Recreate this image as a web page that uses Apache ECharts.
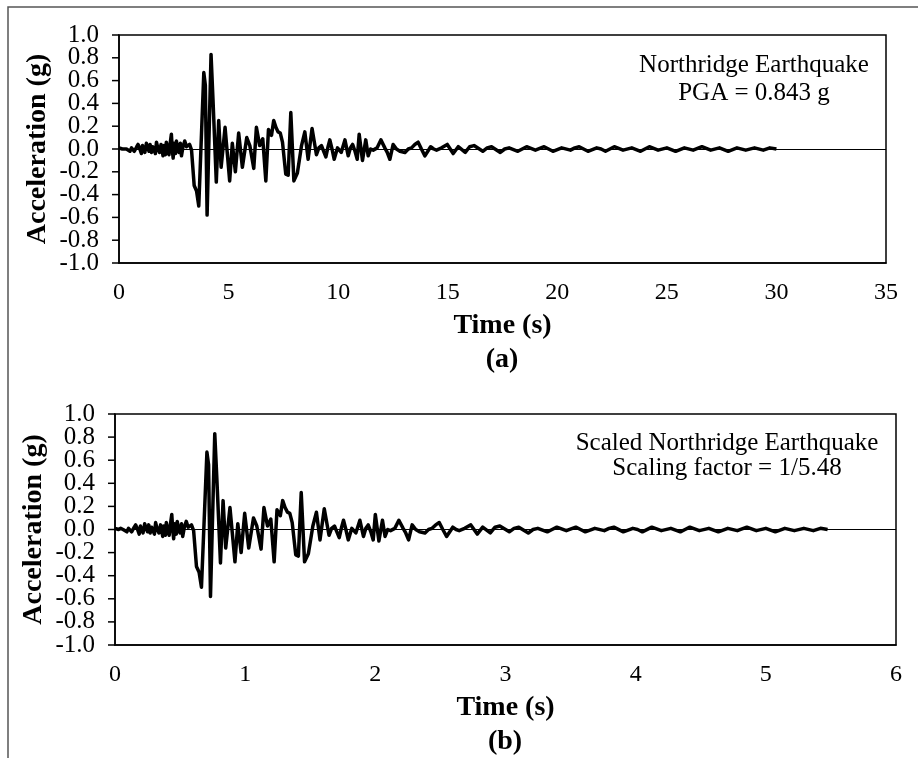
<!DOCTYPE html>
<html>
<head>
<meta charset="utf-8">
<script src="https://cdn.jsdelivr.net/npm/echarts@6/dist/echarts.min.js"></script>
<style>
  html, body { margin: 0; padding: 0; background: #fff; }
  #charts { width: 918px; height: 758px; }
</style>
</head>
<body>
<div id="charts"></div>
<script>
// time (s) and acceleration (g)
const time = [0, 0.08, 0.15, 0.24, 0.34, 0.42, 0.5, 0.57, 0.64, 0.7, 0.75, 0.81, 0.87, 0.95, 1.02, 1.07,
  1.12, 1.18, 1.25, 1.31, 1.37, 1.42, 1.48, 1.54, 1.6, 1.66, 1.71, 1.78, 1.85, 1.92, 2.01, 2.05, 2.08,
  2.12, 2.16, 2.22, 2.28, 2.33, 2.39, 2.43, 2.47, 2.51, 2.55, 2.58, 2.62, 2.68, 2.74, 2.8, 2.85, 2.92,
  3.0, 3.08, 3.15, 3.22, 3.31, 3.43, 3.54, 3.64,
  3.87, 3.94, 4.02, 4.2, 4.29, 4.44, 4.55, 4.66, 4.84, 5.05, 5.17, 5.31, 5.46, 5.63, 5.83, 5.97,
  6.15, 6.27, 6.42, 6.56, 6.7, 6.82, 6.96, 7.06, 7.16, 7.26, 7.36, 7.46, 7.61, 7.72, 7.84, 7.98, 8.14, 8.33,
  8.48, 8.63, 8.81, 9.01, 9.12, 9.24, 9.34, 9.44, 9.54, 9.62, 9.72, 9.82, 9.97, 10.14, 10.31, 10.46, 10.56,
  10.66, 10.77, 10.87, 10.96, 11.11, 11.26, 11.37, 11.48, 11.6, 11.78, 11.95, 12.13, 12.24, 12.36, 12.51,
  12.66, 12.82, 13.05, 13.2, 13.35, 13.5, 13.65, 13.8, 13.96, 14.22, 14.36, 14.49, 14.72,
  14.98, 15.25, 15.48, 15.8, 16.0, 16.2, 16.6, 16.8, 17.0, 17.4, 17.6, 17.8, 18.2, 18.4, 18.6, 19.0,
  19.4, 19.6, 19.8, 20.2, 20.6, 20.8, 21.0, 21.4, 21.8, 22.0, 22.2, 22.6, 23.0, 23.4, 23.8, 24.0, 24.2,
  24.6, 25.0, 25.4, 25.8, 26.2, 26.6, 27.0, 27.4, 27.8, 28.2, 28.6, 29.0, 29.4, 29.7, 30.0];
const accel = [0.01, 0.02, 0.0, 0.01, 0.0, -0.01, -0.02, 0.01, 0.02, -0.02, -0.03, 0.02, 0.04, 0.0, -0.04, 0.03,
  0.02, -0.03, 0.05, 0.01, -0.02, 0.04, -0.03, 0.02, 0.03, -0.04, 0.06, 0.0, -0.03, 0.04, -0.06, 0.03, 0.02,
  -0.05, 0.06, 0.0, -0.05, 0.04, 0.13, 0.0, -0.08, 0.05, 0.04, -0.04, 0.07, 0.0, -0.03, 0.05, -0.06, 0.02,
  0.07, 0.02, 0.03, 0.04, -0.01, -0.32, -0.37, -0.5,
  0.67, 0.56, -0.58, 0.83, 0.43, -0.29, 0.25, -0.16, 0.19, -0.28, 0.05, -0.2, 0.14, -0.16, 0.1, 0.03,
  -0.17, 0.19, 0.03, 0.09, -0.28, 0.17, 0.12, 0.25, 0.19, 0.15, 0.14, 0.06, -0.22, -0.23, 0.32, -0.28, -0.21, 0.03,
  0.15, -0.09, 0.18, -0.05, 0.01, 0.03, -0.02, -0.07, 0.02, 0.08, 0.0, -0.09, 0.01, -0.03, 0.08, -0.06, 0.01,
  0.04, -0.02, -0.09, 0.13, -0.1, 0.08, -0.06, 0.0, -0.01, 0.01, 0.08, 0.01, -0.03, -0.09, 0.04,
  0.0, -0.02, -0.03, 0.0, 0.01, 0.04, 0.06, 0.0, -0.06, 0.02, 0.0, -0.01, 0.01,
  0.04, -0.04, 0.02, -0.03, 0.02, 0.03, -0.02, 0.01, 0.02, -0.03, 0.0, 0.01, -0.02, 0.0, 0.02, -0.01,
  0.02, 0.0, -0.02, 0.01, -0.01, 0.01, 0.02, -0.02, 0.01, 0.0, -0.02, 0.02, -0.01, 0.01, -0.02, 0.0, 0.02,
  -0.01, 0.01, -0.02, 0.01, -0.01, 0.02, -0.01, 0.01, -0.02, 0.01, -0.01, 0.01, -0.01, 0.01, 0.0];

// panel (b): same record, time axis scaled by the factor printed on the chart
const scaleFactor = 5.48;
const timeScaled = time.map(t => t / scaleFactor);

const yTicks = [-1.0, -0.8, -0.6, -0.4, -0.2, 0.0, 0.2, 0.4, 0.6, 0.8, 1.0];
const xTicksA = [0, 5, 10, 15, 20, 25, 30, 35];
const xTicksB = [0, 1, 2, 3, 4, 5, 6];

const font = 'Liberation Serif';

const chart = echarts.init(document.getElementById('charts'));

const pairs = (xs, ys) => xs.map((x, i) => [x, ys[i]]);

const yAxisOpt = (gridIndex) => ({
  gridIndex,
  type: 'value',
  min: yTicks[0],
  max: yTicks[yTicks.length - 1],
  interval: 0.2,
  name: 'Acceleration (g)',
  nameLocation: 'middle',
  nameRotate: 90,
  nameGap: 67,
  nameTextStyle: { fontFamily: font, fontSize: 28, fontWeight: 'bold', color: '#000' },
  axisLine: { show: true, onZero: false, lineStyle: { color: '#000', width: 1.5 } },
  axisTick: { show: false },
  // labels are drawn by tickSeries below so none get dropped for overlap
  axisLabel: { show: false },
  splitLine: { show: false }
});

const xAxisOpt = (gridIndex, ticks) => ({
  gridIndex,
  type: 'value',
  min: ticks[0],
  max: ticks[ticks.length - 1],
  interval: ticks[1] - ticks[0],
  name: 'Time (s)',
  nameLocation: 'middle',
  nameGap: 49,
  nameTextStyle: { fontFamily: font, fontSize: 28, fontWeight: 'bold', color: '#000' },
  axisLine: { show: true, onZero: false, lineStyle: { color: '#000', width: 1.5 } },
  axisTick: { show: false },
  axisLabel: { margin: 18, fontFamily: font, fontSize: 24, color: '#000', showMinLabel: true, showMaxLabel: true },
  splitLine: { show: false }
});

const seriesOpt = (idx, data) => ({
  type: 'line',
  xAxisIndex: idx,
  yAxisIndex: idx,
  data,
  showSymbol: false,
  lineStyle: { color: '#000', width: 3.5, join: 'round' },
  silent: true,
  animation: false,
  z: 3,
  markLine: {
    silent: true,
    symbol: 'none',
    label: { show: false },
    lineStyle: { color: '#000', width: 1, type: 'solid' },
    data: [{ yAxis: 0 }]
  }
});

// outward y-axis ticks and their labels, placed through the axis scale
const tickSeries = (idx, x0) => ({
  type: 'custom',
  xAxisIndex: idx,
  yAxisIndex: idx,
  silent: true,
  clip: false,
  data: yTicks.map(v => [x0, v]),
  renderItem: (params, api) => {
    const v = api.value(1);
    const p = api.coord([api.value(0), v]);
    return {
      type: 'group',
      children: [
        {
          type: 'line',
          shape: { x1: p[0] - 7, y1: p[1], x2: p[0], y2: p[1] },
          style: { stroke: '#000', lineWidth: 1.5 }
        },
        {
          type: 'text',
          x: p[0] - 20,
          y: p[1],
          style: {
            text: v.toFixed(1), fill: '#000', font: '25px "' + font + '"',
            align: 'right', verticalAlign: 'middle'
          }
        }
      ]
    };
  }
});

const textEl = (x, y, text, size, bold, align) => ({
  type: 'text',
  x, y,
  style: {
    text, fill: '#000', font: (bold ? 'bold ' : '') + size + 'px "' + font + '"',
    textAlign: align || 'center', textVerticalAlign: 'middle'
  }
});

const option = {
  animation: false,
  backgroundColor: '#fff',
  grid: [
    { left: 119, top: 35, width: 767, height: 228, show: true, borderColor: '#000', borderWidth: 1.5 },
    { left: 115, top: 414, width: 781, height: 231, show: true, borderColor: '#000', borderWidth: 1.5 }
  ],
  xAxis: [xAxisOpt(0, xTicksA), xAxisOpt(1, xTicksB)],
  yAxis: [yAxisOpt(0), yAxisOpt(1)],
  series: [
    seriesOpt(0, pairs(time, accel)),
    seriesOpt(1, pairs(timeScaled, accel)),
    tickSeries(0, xTicksA[0]),
    tickSeries(1, xTicksB[0])
  ],
  graphic: [
    // outer frame (top and left edges)
    { type: 'polyline', shape: { points: [[8, 758], [8, 7], [918, 7]] },
      style: { stroke: '#555', lineWidth: 1.5, fill: null } },
    textEl(754, 65, 'Northridge Earthquake', 25),
    textEl(754, 93, 'PGA = 0.843 g', 25),
    textEl(727, 443, 'Scaled Northridge Earthquake', 25),
    textEl(727, 468, 'Scaling factor = 1/5.48', 25),
    textEl(502, 360, '(a)', 28, true),
    textEl(505, 742, '(b)', 28, true)
  ]
};

chart.setOption(option);
</script>
</body>
</html>
